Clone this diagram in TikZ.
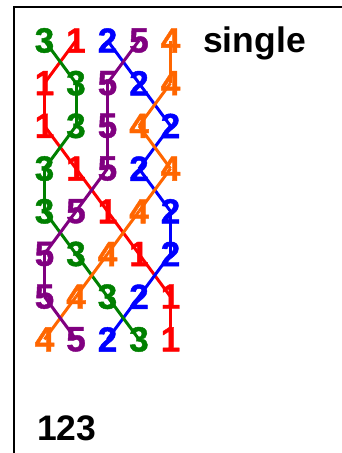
\documentclass[tikz,border=0pt]{standalone}
\usepackage{fontspec}
\setmainfont{Liberation Sans}
\newfontfamily\heavyfont[FakeBold=1.2]{Liberation Sans Bold}
\definecolor{c1}{RGB}{255,0,0}
\definecolor{c2}{RGB}{0,0,255}
\definecolor{c3}{RGB}{0,128,0}
\definecolor{c4}{RGB}{255,102,0}
\definecolor{c5}{RGB}{128,0,128}
\begin{document}
\begin{tikzpicture}[x=1pt,y=-1pt,
  dig/.style={inner sep=0pt, font=\fontsize{35}{40}\heavyfont},
  lbl/.style={inner sep=0pt, anchor=base west, font=\fontsize{35.5}{40}\selectfont\bfseries},
  link/.style={line width=3pt}]
\useasboundingbox (0,0) rectangle (342,453);
\draw[line width=2pt] (14,453) -- (14,7) -- (342,7);
\foreach \row [count=\i] in {{3,1,2,5,4},{1,3,5,2,4},{1,3,5,4,2},{3,1,5,2,4},{3,5,1,4,2},{5,3,4,1,2},{5,4,3,2,1},{4,5,2,3,1}}{
  \foreach \d [count=\j] in \row {
    \node[dig, text=c\d] (r\i-\d) at ({44.5+31.5*(\j-1)}, {40.5+42.7*(\i-1)}) {\d};
  }
}
\foreach \i [evaluate=\i as \k using int(\i+1)] in {1,...,7}{
  \foreach \d in {1,...,5}{
    \draw[link, c\d] (r\i-\d.center) -- (r\k-\d.center);
  }
}
\node[lbl] (title) at (203,52) {single};
\node[lbl] (num) at (37,440) {123};
\end{tikzpicture}
\end{document}
